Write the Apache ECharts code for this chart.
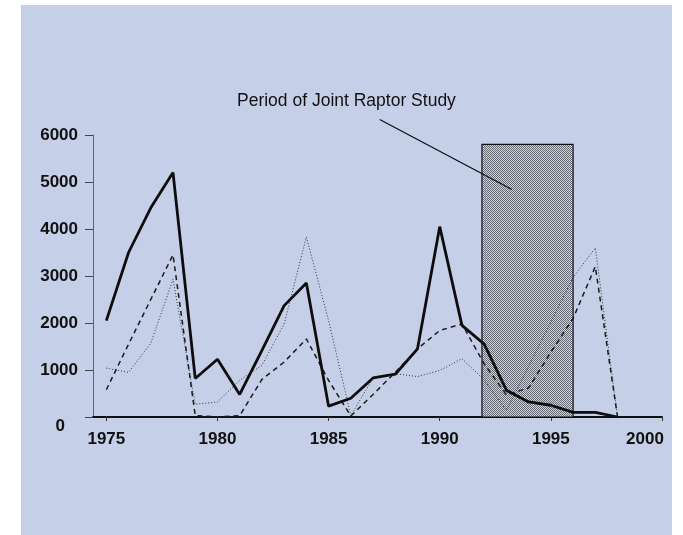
<!DOCTYPE html>
<html>
<head>
<meta charset="utf-8">
<script src="https://cdn.jsdelivr.net/npm/echarts@6/dist/echarts.min.js"></script>
<style>
  html, body { margin: 0; padding: 0; background: #fff; }
  #chart { width: 683px; height: 535px; }
</style>
</head>
<body>
<div id="chart"></div>
<script>
  const years = [1975, 1976, 1977, 1978, 1979, 1980, 1981, 1982, 1983, 1984, 1985, 1986,
    1987, 1988, 1989, 1990, 1991, 1992, 1993, 1994, 1995, 1996, 1997, 1998];
  const solidValues = [2050, 3500, 4450, 5200, 820, 1230, 480, 1420, 2370, 2850, 230, 400,
    830, 910, 1450, 4050, 1950, 1550, 570, 320, 250, 100, 100, 0];
  const dashedValues = [580, 1550, 2500, 3450, 30, 0, 30, 800, 1170, 1660, 780, 20,
    480, 950, 1450, 1840, 1980, 1130, 470, 620, 1380, 2100, 3200, 0];
  const dottedValues = [1040, 950, 1570, 2930, 270, 320, 780, 1100, 1980, 3830, 2050, 30,
    830, 920, 860, 990, 1240, 790, 140, 1080, 2020, 2970, 3600, 0];
  const xTicks = [1975, 1980, 1985, 1990, 1995, 2000];
  const studyPeriod = [1991.9, 1996];
  const studyTop = 5800;
  const pointerFrom = [1987.3, 6330];
  const pointerTo = [1993.25, 4840];
  const noteText = 'Period of Joint Raptor Study';

  const font = '"Liberation Sans", Arial, sans-serif';

  // 1px checker texture for the shaded box
  const tex = document.createElement('canvas');
  tex.width = 2;
  tex.height = 2;
  const tctx = tex.getContext('2d');
  tctx.fillStyle = '#cdd3e3';
  tctx.fillRect(0, 0, 2, 2);
  tctx.fillStyle = '#656973';
  tctx.fillRect(0, 0, 1, 1);
  tctx.fillRect(1, 1, 1, 1);

  const pairs = (vals) => years.map((y, i) => [y, vals[i]]);

  const chart = echarts.init(document.getElementById('chart'));
  chart.setOption({
    animation: false,
    backgroundColor: '#fff',
    graphic: [
      {
        type: 'rect',
        id: 'panel',
        z: -10,
        silent: true,
        shape: { x: 21, y: 5, width: 651, height: 530 },
        style: { fill: '#c5cfe7' }
      },
      {
        type: 'text',
        id: 'note',
        left: 237,
        top: 92,
        silent: true,
        style: { text: noteText, fill: '#111', font: '17.5px ' + font }
      }
    ],
    grid: { left: 93, top: 135, right: 21, bottom: 118 },
    xAxis: {
      type: 'value',
      min: 1974.4,
      max: 2000,
      splitLine: { show: false },
      axisLine: { lineStyle: { color: '#111', width: 2 } },
      axisTick: { customValues: xTicks, length: 4, lineStyle: { color: '#333' } },
      axisLabel: {
        customValues: xTicks,
        margin: 14,
        color: '#111',
        fontFamily: font,
        fontSize: 17,
        fontWeight: 'bold',
        formatter: (v) => (v === 2000 ? '{e|2000}' : String(v)),
        rich: {
          e: { fontFamily: font, fontSize: 17, fontWeight: 'bold', color: '#111', padding: [0, 34, 0, 0] }
        }
      }
    },
    yAxis: {
      type: 'value',
      min: 0,
      max: 6000,
      interval: 1000,
      splitLine: { show: false },
      axisLine: { show: true, lineStyle: { color: '#666', width: 1 } },
      axisTick: { show: true, length: 8, lineStyle: { color: '#444' } },
      axisLabel: {
        margin: 15,
        color: '#111',
        fontFamily: font,
        fontSize: 17,
        fontWeight: 'bold',
        formatter: (v) => (v === 0 ? '{z|0}' : String(v)),
        rich: {
          z: { fontFamily: font, fontSize: 17, fontWeight: 'bold', color: '#111', padding: [18, 13, 0, 0] }
        }
      }
    },
    series: [
      {
        // carrier for the shaded study period, drawn under the lines
        type: 'line',
        name: 'study',
        z: 1,
        silent: true,
        showSymbol: false,
        symbol: 'none',
        data: pairs(solidValues),
        lineStyle: { opacity: 0 },
        markArea: {
          silent: true,
          itemStyle: {
            color: { image: tex, repeat: 'repeat' },
            borderColor: '#111',
            borderWidth: 1.2
          },
          data: [[
            { xAxis: studyPeriod[0], yAxis: 0 },
            { xAxis: studyPeriod[1], yAxis: studyTop }
          ]]
        }
      },
      {
        type: 'line',
        name: 'dotted',
        z: 2,
        showSymbol: false,
        symbol: 'none',
        data: pairs(dottedValues),
        lineStyle: { color: '#333', width: 1, type: [1, 2] }
      },
      {
        type: 'line',
        name: 'dashed',
        z: 3,
        showSymbol: false,
        symbol: 'none',
        data: pairs(dashedValues),
        lineStyle: { color: '#1a1a1a', width: 1.5, type: [5, 4] }
      },
      {
        type: 'line',
        name: 'solid',
        z: 4,
        showSymbol: false,
        symbol: 'none',
        data: pairs(solidValues),
        lineStyle: { color: '#0d0d0d', width: 2.8 }
      }
    ]
  });

  // pointer from the note to the box, placed through the chart's own scales
  const p0 = chart.convertToPixel({ gridIndex: 0 }, pointerFrom);
  const p1 = chart.convertToPixel({ gridIndex: 0 }, pointerTo);
  chart.setOption({
    graphic: [{
      type: 'line',
      id: 'pointer',
      z: 10,
      silent: true,
      shape: { x1: p0[0], y1: p0[1], x2: p1[0], y2: p1[1] },
      style: { stroke: '#111', lineWidth: 1.3 }
    }]
  });
</script>
</body>
</html>
